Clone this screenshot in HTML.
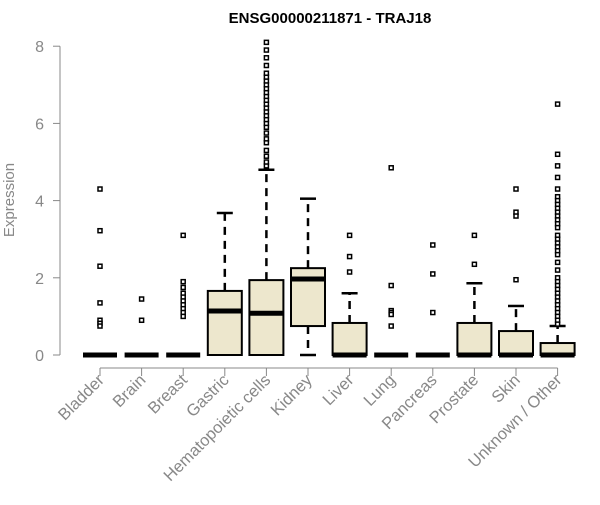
<!DOCTYPE html>
<html><head><meta charset="utf-8"><style>
body{margin:0;background:#fff}
svg{font-family:"Liberation Sans",Arial,sans-serif}
</style></head><body>
<svg id="c" width="600" height="500">
<text x="330" y="23" text-anchor="middle" font-weight="bold" font-size="15">ENSG00000211871 - TRAJ18</text>
<text transform="translate(14,200) rotate(-90)" text-anchor="middle" font-size="15" fill="#888">Expression</text>
</svg>
<script>
const categories=["Bladder","Brain","Breast","Gastric","Hematopoietic cells","Kidney","Liver","Lung","Pancreas","Prostate","Skin","Unknown / Other"];
const q1=[0,0,0,0,0,0.75,0,0,0,0,0,0];
const medians=[0,0,0,1.14,1.08,1.97,0,0,0,0,0,0];
const q3=[0,0,0,1.66,1.94,2.25,0.83,0,0,0.83,0.62,0.31];
const whiskLo=[0,0,0,0,0,0,0,0,0,0,0,0];
const whiskHi=[0,0,0,3.68,4.8,4.05,1.6,0,0,1.86,1.27,0.75];
const outliers=[
[4.3,3.22,2.3,1.35,0.9,0.82,0.75],
[1.45,0.9],
[3.1,1.9,1.75,1.6,1.5,1.4,1.3,1.2,1.1,1.0],
[],
[4.9,5.0,5.15,5.3,5.5,5.6,5.75,5.9,6.0,6.1,6.2,6.3,6.4,6.5,6.6,6.7,6.8,6.9,7.0,7.1,7.2,7.3,7.5,7.7,7.9,8.1],
[],
[3.1,2.55,2.15],
[4.85,1.8,1.15,1.1,1.05,0.75],
[2.85,2.1,1.1],
[3.1,2.35],
[4.3,3.7,3.6,1.95],
[6.5,5.2,4.9,4.6,4.3,4.1,4.0,3.9,3.8,3.7,3.6,3.5,3.4,3.3,3.1,3.0,2.9,2.8,2.7,2.6,2.4,2.2,2.0,1.9,1.8,1.7,1.6,1.5,1.4,1.3,1.2,1.1,1.0,0.9,0.8]
];
const yTicks=[0,2,4,6,8];
const svg=document.getElementById('c');const NS='http://www.w3.org/2000/svg';
const y=v=>355-38.6*v;
const x=i=>100+i*41.6;
function mk(t,a,p){const e=document.createElementNS(NS,t);for(const k in a)e.setAttribute(k,a[k]);(p||svg).appendChild(e);return e;}
let ax=mk('line',{x1:60,x2:60,y1:y(0),y2:y(8),stroke:'#888'});


yTicks.forEach(v=>{
 let t=mk('line',{x1:53,x2:60,y1:y(v),y2:y(v),stroke:'#888'});
 
 
 let l=mk('text',{x:44,y:y(v)+6,'text-anchor':'end','font-size':16,fill:'#888'});l.textContent=v;
 
 
});
let xa=mk('line',{x1:x(0),x2:x(11),y1:368,y2:368,stroke:'#888'});


categories.forEach((c,i)=>{
 const cx=x(i),w=17;
 let tk=mk('line',{x1:cx,x2:cx,y1:368,y2:376,stroke:'#888'});
 
 
 let l=mk('text',{transform:`translate(${cx+5},${381}) rotate(-45)`,'text-anchor':'end','font-size':16.5,fill:'#888'});l.textContent=c;
 
 
 const g=mk('g',{});
 
 
 if(whiskHi[i]>q3[i]){
  mk('line',{x1:cx,x2:cx,y1:y(q3[i]),y2:y(whiskHi[i]),stroke:'#000','stroke-width':2.5,'stroke-dasharray':'8,6'},g);
  mk('line',{x1:cx-8,x2:cx+8,y1:y(whiskHi[i]),y2:y(whiskHi[i]),stroke:'#000','stroke-width':2.5},g);
 }
 if(q1[i]>whiskLo[i]){
  mk('line',{x1:cx,x2:cx,y1:y(q1[i]),y2:y(whiskLo[i]),stroke:'#000','stroke-width':2.5,'stroke-dasharray':'8,6'},g);
  mk('line',{x1:cx-8,x2:cx+8,y1:y(whiskLo[i]),y2:y(whiskLo[i]),stroke:'#000','stroke-width':2.5},g);
 }
 if(q3[i]>q1[i]) mk('rect',{x:cx-w,y:y(q3[i]),width:2*w,height:y(q1[i])-y(q3[i]),fill:'#ede7cd',stroke:'#000','stroke-width':2},g);
 mk('line',{x1:cx-w,x2:cx+w,y1:y(medians[i]),y2:y(medians[i]),stroke:'#000','stroke-width':5},g);
 outliers[i].forEach(v=>{
  let o=mk('rect',{x:cx-2,y:y(v)-2,width:4,height:4,fill:'#fff',stroke:'#000','stroke-width':1.5},g);
  
  
 });
});
</script>
</body></html>
